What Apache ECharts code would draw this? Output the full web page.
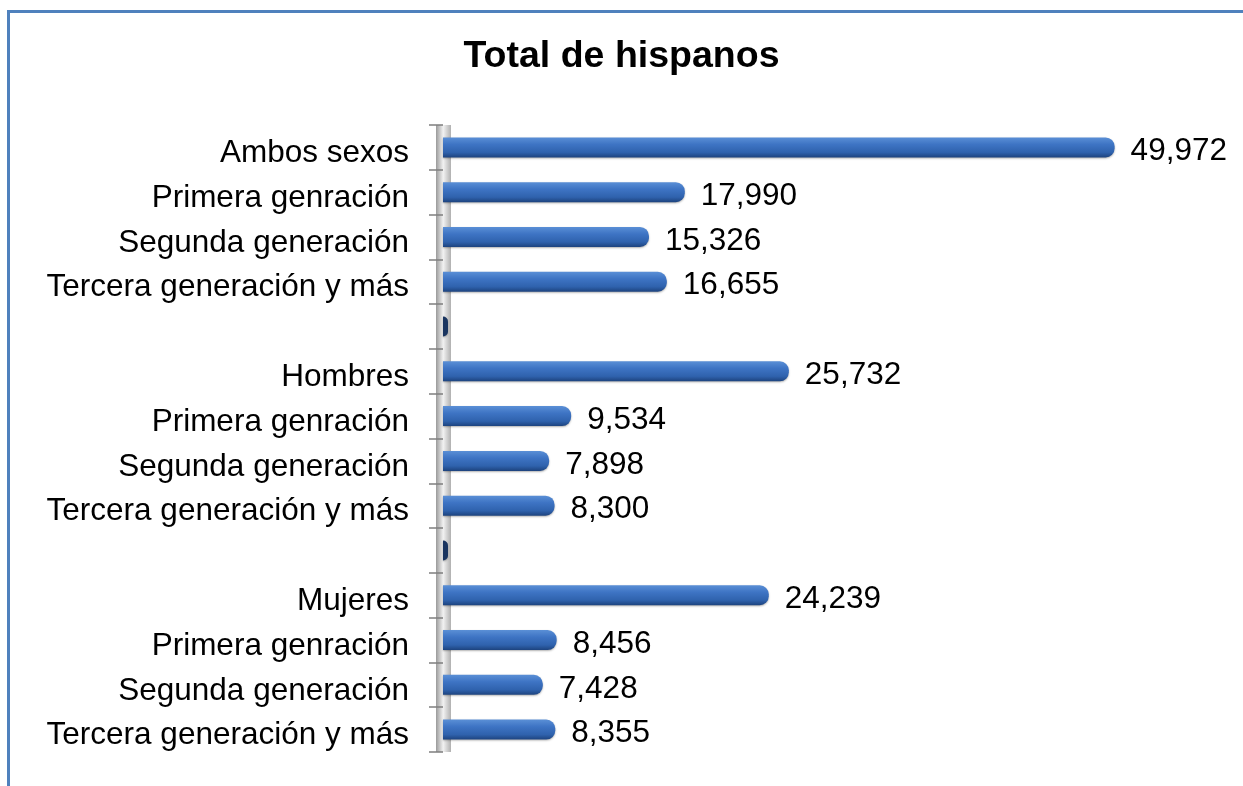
<!DOCTYPE html>
<html>
<head>
<meta charset="utf-8">
<script src="https://cdn.jsdelivr.net/npm/echarts@6/dist/echarts.min.js"></script>
<style>
html,body{margin:0;padding:0;background:#fff;overflow:hidden;}
#frame{position:absolute;left:7px;top:10px;width:1300px;height:900px;border-left:3px solid #4f81bd;border-top:3px solid #4f81bd;}
#chart{position:absolute;left:0;top:0;width:1243px;height:786px;}
</style>
</head>
<body>
<div id="frame"></div>
<div id="chart"></div>
<script>
const titleText = 'Total de hispanos';
const categories = [
  'Ambos sexos', 'Primera genración', 'Segunda generación', 'Tercera generación y más', '',
  'Hombres', 'Primera genración', 'Segunda generación', 'Tercera generación y más', '',
  'Mujeres', 'Primera genración', 'Segunda generación', 'Tercera generación y más'
];
const values = [
  49972, 17990, 15326, 16655, 0,
  25732, 9534, 7898, 8300, 0,
  24239, 8456, 7428, 8355
];

const chart = echarts.init(document.getElementById('chart'));
const font = '"Liberation Sans", Arial, sans-serif';
const barGrad = new echarts.graphic.LinearGradient(0, 0, 0, 1, [
  {offset: 0, color: '#5a8fd6'},
  {offset: 0.35, color: '#3e74c4'},
  {offset: 0.75, color: '#2f62ad'},
  {offset: 1, color: '#1d437e'}
]);
const wallGrad = new echarts.graphic.LinearGradient(436, 0, 452, 0, [
  {offset: 0, color: '#9a9a9a'},
  {offset: 0.45, color: '#f2f2f2'},
  {offset: 1, color: '#a8a8a8'}
], true);
chart.setOption({
  animation: false,
  title: {
    text: titleText, left: 'center', top: 33,
    textStyle: {fontFamily: font, fontSize: 37.5, fontWeight: 'bold', color: '#000'}
  },
  grid: {left: 443, right: 128, top: 125, bottom: 34},
  xAxis: {type: 'value', min: 0, max: 50000, show: false},
  yAxis: {
    type: 'category', inverse: true, data: categories,
    axisLine: {show: true, lineStyle: {color: wallGrad, width: 15, cap: 'butt'}},
    axisTick: {show: true, length: 14, lineStyle: {color: '#7f7f7f', width: 1.5}},
    axisLabel: {margin: 34, fontFamily: font, fontSize: 31.5, color: '#000', verticalAlign: 'top', lineHeight: 12}
  },
  series: [{
    type: 'bar', data: values, barWidth: 20, barMinHeight: 5,
    itemStyle: {
      borderRadius: [0, 9, 9, 0],
      color: p => p.value === 0 ? '#1a3560' : barGrad,
      shadowColor: 'rgba(0,0,0,0.3)', shadowBlur: 2, shadowOffsetY: 1
    },
    label: {
      show: true, position: 'right', distance: 16,
      fontFamily: font, fontSize: 31.5, color: '#000', offset: [0, 4],
      formatter: p => p.value === 0 ? '' : p.value.toLocaleString('en-US')
    }
  }]
});
</script>
</body>
</html>
